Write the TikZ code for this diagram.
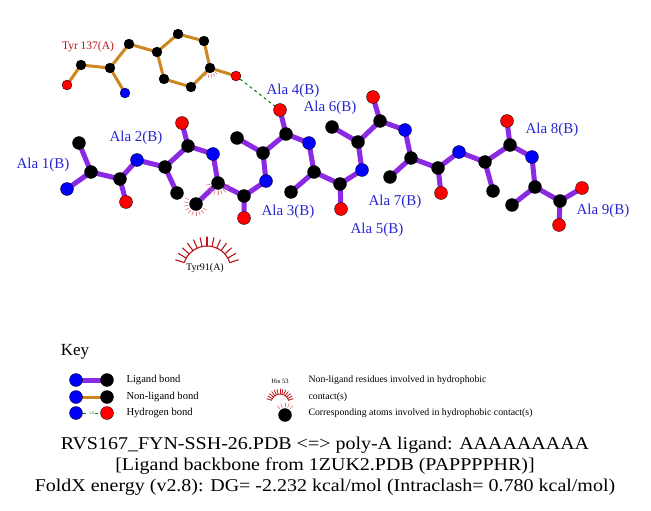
\documentclass[tikz,border=0pt]{standalone}
\usepackage{fontspec}
\setmainfont{Liberation Serif}
\usetikzlibrary{backgrounds}
\definecolor{ligcol}{rgb}{0.54,0.17,0.89}
\definecolor{nlcol}{rgb}{0.8,0.53,0.13}
\definecolor{labcol}{rgb}{0.15,0.15,0.82}
\definecolor{resred}{rgb}{0.72,0.08,0.1}
\definecolor{hphcol}{rgb}{0.88,0.45,0.45}
\definecolor{hbcol}{rgb}{0.,0.5,0.}
\tikzset{
  atom/.style={circle,inner sep=0pt,minimum size=13pt,draw=black,line width=0.3pt},
  catom/.style={atom,fill=black},
  natom/.style={atom,fill=blue},
  oatom/.style={atom,fill=red},
  tyratom/.style={minimum size=10pt},
  ligbond/.style={line width=5pt,color=ligcol},
  nlbond/.style={line width=3pt,color=nlcol},
  hbond/.style={dashed,line width=1pt,color=hbcol},
  hphres/.style={line width=1.1pt,color=resred},
  hphat/.style={line width=0.6pt,color=hphcol},
  alalab/.style={text=labcol,font=\fontsize{15}{15}\selectfont},
  keytext/.style={anchor=west,font=\fontsize{9.8}{17}\selectfont,align=left},
  titletext/.style={font=\fontsize{18}{18}\selectfont,xscale=1.11,transform shape}
}
\begin{document}
\begin{tikzpicture}[line cap=round,line join=round,x=1pt,y=-1pt]
\useasboundingbox (0,0) rectangle (651,511);
% Tyr 137(A)
\node[oatom,tyratom] (tO) at (67,85) {};
\node[catom,tyratom] (tC) at (81,65) {};
\node[catom,tyratom] (tCA) at (110,68) {};
\node[natom,tyratom] (tN) at (125,93) {};
\node[catom,tyratom] (tCB) at (129,44) {};
\node[catom,tyratom] (tCG) at (157,52) {};
\node[catom,tyratom] (tCD1) at (178,34) {};
\node[catom,tyratom] (tCE1) at (204,41) {};
\node[catom,tyratom] (tCZ) at (210,68) {};
\node[catom,tyratom] (tCE2) at (191,87) {};
\node[catom,tyratom] (tCD2) at (164,79) {};
\node[oatom,tyratom] (tOH) at (236,76) {};
\node[text=resred,font=\fontsize{11.5}{11.5}\selectfont] (tyrlab) at (88,47) {Tyr 137(A)};
% ligand
\node[natom] (n1) at (67,189) {};
\node[catom] (ca1) at (91,172) {};
\node[catom] (cb1) at (79,143) {};
\node[catom] (c1) at (120,179) {};
\node[oatom] (o1) at (126,202) {};
\node[natom] (n2) at (137,160) {};
\node[catom] (ca2) at (165,167) {};
\node[catom] (cb2) at (177,193) {};
\node[catom] (c2) at (188,146) {};
\node[oatom] (o2) at (182,123) {};
\node[natom] (n3) at (213,154) {};
\node[catom] (ca3) at (218,183) {};
\node[catom] (cb3) at (196,204) {};
\node[catom] (c3) at (244,196) {};
\node[oatom] (o3) at (244,218) {};
\node[natom] (n4) at (266,181) {};
\node[catom] (ca4) at (263,153) {};
\node[catom] (cb4) at (237,138) {};
\node[catom] (c4) at (286,134) {};
\node[oatom] (o4) at (280,110) {};
\node[natom] (n5) at (309,143) {};
\node[catom] (ca5) at (314,172) {};
\node[catom] (cb5) at (291,192) {};
\node[catom] (c5) at (340,184) {};
\node[oatom] (o5) at (341,209) {};
\node[natom] (n6) at (362,170) {};
\node[catom] (ca6) at (358,142) {};
\node[catom] (cb6) at (332,127) {};
\node[catom] (c6) at (380,121) {};
\node[oatom] (o6) at (373,97) {};
\node[natom] (n7) at (405,130) {};
\node[catom] (ca7) at (411,158) {};
\node[catom] (cb7) at (390,177) {};
\node[catom] (c7) at (438,168) {};
\node[oatom] (o7) at (441,193) {};
\node[natom] (n8) at (459,152) {};
\node[catom] (ca8) at (485,162) {};
\node[catom] (cb8) at (493,191) {};
\node[catom] (c8) at (510,145) {};
\node[oatom] (o8) at (507,121) {};
\node[natom] (n9) at (532,157) {};
\node[catom] (ca9) at (535,187) {};
\node[catom] (cb9) at (512,205) {};
\node[catom] (c9) at (560,201) {};
\node[oatom] (o9) at (582,188) {};
\node[oatom] (oxt9) at (559,225) {};
\node[alalab] (lab1) at (43,165) {Ala 1(B)};
\node[alalab] (lab2) at (136,138) {Ala 2(B)};
\node[alalab] (lab3) at (288,212) {Ala 3(B)};
\node[alalab] (lab4) at (293,91) {Ala 4(B)};
\node[alalab] (lab5) at (377,230) {Ala 5(B)};
\node[alalab] (lab6) at (330,108) {Ala 6(B)};
\node[alalab] (lab7) at (395,202) {Ala 7(B)};
\node[alalab] (lab8) at (552,130) {Ala 8(B)};
\node[alalab] (lab9) at (603,211) {Ala 9(B)};
% Tyr 91(A), hydrophobic
\coordinate (t91) at (207,270);
\draw[hphres] (t91) ++(18:24pt) arc[start angle=18,end angle=162,radius=24pt];
\foreach \a in {18,30,...,162}
  \draw[hphres] (t91) ++(\a:24pt) -- ++(\a:9pt);
\node[font=\fontsize{10}{10}\selectfont] (t91lab) at (205,268) {Tyr91(A)};
\foreach \a in {150,170,...,330}
  \draw[hphat] (cb3.center) ++(\a:8pt) -- ++(\a:4pt);
\foreach \a in {190,210,...,350}
  \draw[hphat] (ca3.center) ++(\a:8pt) -- ++(\a:4pt);
\foreach \a in {240,260,...,320}
  \draw[hphat] (tCZ.center) ++(\a:6.5pt) -- ++(\a:3pt);
% key
\node[font=\fontsize{17}{17}\selectfont] (keylab) at (75,352) {Key};
\node[natom] (k1a) at (76,380) {};
\node[catom] (k1b) at (107,380) {};
\node[natom] (k2a) at (76,397) {};
\node[catom] (k2b) at (107,397) {};
\node[natom] (k3a) at (76,413) {};
\node[oatom] (k3b) at (107,413) {};
\node[keytext,font=\fontsize{10.6}{17}\selectfont] (k1t) at (123,380) {Ligand bond};
\node[keytext,font=\fontsize{10.6}{17}\selectfont] (k2t) at (123,397) {Non-ligand bond};
\node[keytext,font=\fontsize{10.6}{17}\selectfont] (k3t) at (123,413) {Hydrogen bond};
\node[font=\fontsize{6.5}{6.5}\selectfont] (khis) at (280,381) {His 53};
\coordinate (khc) at (280,403);
\draw[hphres,line width=0.8pt] (khc) ++(18:9pt) arc[start angle=18,end angle=162,radius=9pt];
\foreach \a in {18,30,...,162}
  \draw[hphres,line width=0.8pt] (khc) ++(\a:9pt) -- ++(\a:5pt);
\node[catom] (kdot) at (285,415) {};
\foreach \a in {50,70,...,130}
  \draw[hphat] (kdot.center) ++(\a:8pt) -- ++(\a:4pt);
\node[keytext] (k4t) at (305,388.5) {Non-ligand residues involved in hydrophobic\\contact(s)};
\node[keytext] (k5t) at (305,413) {Corresponding atoms involved in hydrophobic contact(s)};
% title
\node[titletext] (l1) at (325,445) {RVS167\_FYN-SSH-26.PDB <=> poly-A ligand: AAAAAAAAA};
\node[titletext] (l2) at (325,466) {[Ligand backbone from 1ZUK2.PDB (PAPPPPHR)]};
\node[titletext] (l3) at (325,487) {FoldX energy (v2.8): DG= -2.232 kcal/mol (Intraclash= 0.780 kcal/mol)};
% bonds
\begin{scope}[on background layer]
\draw[nlbond] (tO.center) -- (tC.center) -- (tCA.center) -- (tCB.center) -- (tCG.center) -- (tCD1.center) -- (tCE1.center) -- (tCZ.center) -- (tCE2.center) -- (tCD2.center) -- (tCG.center);
\draw[nlbond] (tCA.center) -- (tN.center) (tCZ.center) -- (tOH.center);
\draw[hbond] (tOH) -- (o4);
\draw[ligbond] (n1.center) -- (ca1.center) -- (c1.center) -- (n2.center) -- (ca2.center) -- (c2.center) -- (n3.center) -- (ca3.center) -- (c3.center) -- (n4.center) -- (ca4.center) -- (c4.center) -- (n5.center) -- (ca5.center) -- (c5.center) -- (n6.center) -- (ca6.center) -- (c6.center) -- (n7.center) -- (ca7.center) -- (c7.center) -- (n8.center) -- (ca8.center) -- (c8.center) -- (n9.center) -- (ca9.center) -- (c9.center) -- (o9.center);
\draw[ligbond] (ca1.center) -- (cb1.center) (ca2.center) -- (cb2.center) (ca3.center) -- (cb3.center) (ca4.center) -- (cb4.center) (ca5.center) -- (cb5.center) (ca6.center) -- (cb6.center) (ca7.center) -- (cb7.center) (ca8.center) -- (cb8.center) (ca9.center) -- (cb9.center);
\draw[ligbond] (c1.center) -- (o1.center) (c2.center) -- (o2.center) (c3.center) -- (o3.center) (c4.center) -- (o4.center) (c5.center) -- (o5.center) (c6.center) -- (o6.center) (c7.center) -- (o7.center) (c8.center) -- (o8.center) (c9.center) -- (oxt9.center);
\draw[ligbond] (k1a.center) -- (k1b.center);
\draw[nlbond] (k2a.center) -- (k2b.center);
\draw[hbond,line width=0.8pt] (k3a) -- node[fill=white,inner sep=0.5pt,text=hbcol,font=\fontsize{4}{4}\selectfont] (k3lab) {3.0} (k3b);
\end{scope}
\end{tikzpicture}
\end{document}
